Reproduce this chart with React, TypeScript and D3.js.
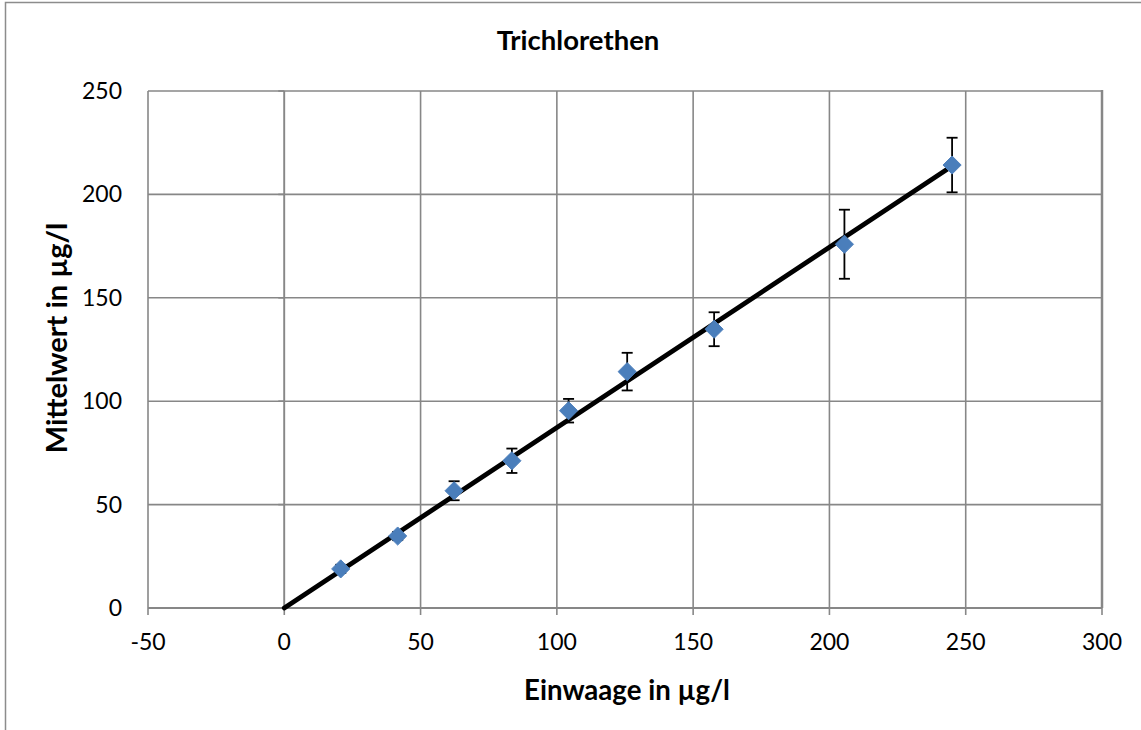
import React from "react";
import * as d3 from "d3";

const einwaage = [20.7, 41.6, 62.3, 83.5, 104.3, 125.8, 157.7, 205.5, 245.0];
const mittelwert = [18.9, 34.8, 56.7, 71.2, 95.4, 114.3, 134.8, 175.9, 214.2];
const fehler = [2.0, 2.0, 4.6, 5.9, 5.7, 9.1, 8.2, 16.7, 13.2];
const xTicks = [-50, 0, 50, 100, 150, 200, 250, 300];
const yTicks = [0, 50, 100, 150, 200, 250];
const title = "Trichlorethen";
const xTitle = "Einwaage in µg/l";
const yTitle = "Mittelwert in µg/l";

const W = 1141;
const H = 730;
const FONT = "Lato, 'Open Sans', sans-serif";

export default function App() {
  const x = d3.scaleLinear().domain([-50, 300]).range([148, 1102]);
  const y = d3.scaleLinear().domain([0, 250]).range([608, 91]);
  const grid = "#878787";

  // regression line through origin (Excel trendline with intercept 0)
  const sxy = d3.sum(einwaage, (v, i) => v * mittelwert[i]);
  const sxx = d3.sum(einwaage, (v) => v * v);
  const slope = sxy / sxx;
  const xMax = d3.max(einwaage) as number;
  const line = d3.line<number>().x((d) => x(d)).y((d) => y(slope * d));

  const diamond = d3.symbol().type(d3.symbolDiamond2).size(210)();

  return (
    <svg width={W} height={H} style={{ position: "absolute", left: 0, top: 0, background: "#fff" }}>
      <rect x={5.5} y={2.5} width={W + 20} height={H + 20} fill="#fff" stroke="#8c8c8c" strokeWidth={1.5} />
      <text x={578} y={50} textAnchor="middle" fontFamily={FONT} fontWeight="bold" fontSize={27.5} fill="#000">
        {title}
      </text>
      {/* gridlines */}
      {yTicks.map((t) => (
        <line key={"gy" + t} x1={x(-50)} x2={x(300)} y1={y(t)} y2={y(t)} stroke={grid} strokeWidth={1.6} />
      ))}
      {xTicks.map((t) => (
        <line key={"gx" + t} x1={x(t)} x2={x(t)} y1={y(0)} y2={y(250)} stroke={grid} strokeWidth={1.6} />
      ))}
      <line x1={x(300)} x2={x(300)} y1={y(250) - 1} y2={y(0)} stroke={grid} strokeWidth={2.5} />
      {/* axes */}
      <line x1={x(-50)} x2={x(300)} y1={y(0)} y2={y(0)} stroke={grid} strokeWidth={2} />
      <line x1={x(0)} x2={x(0)} y1={y(0)} y2={y(250)} stroke={grid} strokeWidth={1.6} />
      {xTicks.map((t) => (
        <line key={"tx" + t} x1={x(t)} x2={x(t)} y1={y(0)} y2={y(0) + 7} stroke={grid} strokeWidth={1.6} />
      ))}
      {yTicks.map((t) => (
        <line key={"ty" + t} x1={x(0) - 6} x2={x(0)} y1={y(t)} y2={y(t)} stroke={grid} strokeWidth={1.6} />
      ))}
      {/* tick labels */}
      {xTicks.map((t) => (
        <text key={"lx" + t} x={x(t)} y={650} textAnchor="middle" fontFamily={FONT} fontSize={23} fill="#000">
          {t}
        </text>
      ))}
      {yTicks.map((t) => (
        <text key={"ly" + t} x={122} y={y(t) + 8} textAnchor="end" fontFamily={FONT} fontSize={23} fill="#000">
          {t}
        </text>
      ))}
      {/* axis titles */}
      <text x={627} y={700} textAnchor="middle" fontFamily={FONT} fontWeight="bold" fontSize={27.6} fill="#000">
        {xTitle}
      </text>
      <text
        transform={`translate(67,338) rotate(-90)`}
        textAnchor="middle"
        fontFamily={FONT}
        fontWeight="bold"
        fontSize={29}
        fill="#000"
      >
        {yTitle}
      </text>
      {/* trendline */}
      <path d={line([0, xMax]) || ""} fill="none" stroke="#000" strokeWidth={4.8} strokeLinecap="round" />
      {/* error bars */}
      {einwaage.map((v, i) => {
        const cx = x(v);
        const y1 = y(mittelwert[i] + fehler[i]);
        const y2 = y(mittelwert[i] - fehler[i]);
        return (
          <g key={"e" + i} stroke="#000" strokeWidth={1.8}>
            <line x1={cx} x2={cx} y1={y1} y2={y2} />
            <line x1={cx - 5.5} x2={cx + 5.5} y1={y1} y2={y1} />
            <line x1={cx - 5.5} x2={cx + 5.5} y1={y2} y2={y2} />
          </g>
        );
      })}
      {/* markers */}
      {einwaage.map((v, i) => (
        <path
          key={"m" + i}
          d={diamond || ""}
          transform={`translate(${x(v)},${y(mittelwert[i])})`}
          fill="#4a7ebb"
          stroke="#4f81bd"
          strokeWidth={1}
        />
      ))}
    </svg>
  );
}
